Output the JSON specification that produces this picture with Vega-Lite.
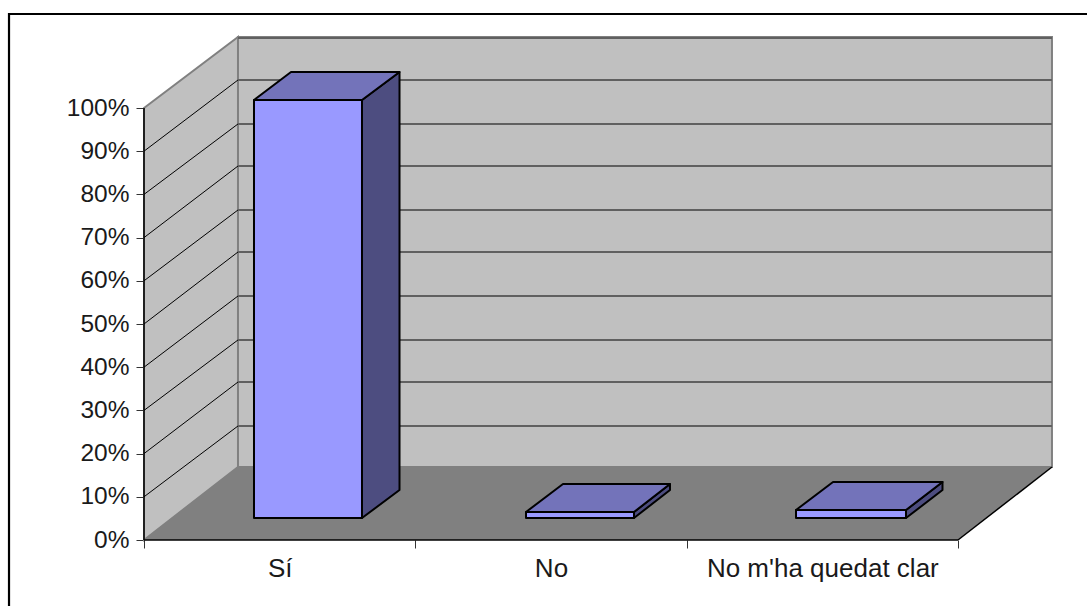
{
"$schema":"https://vega.github.io/schema/vega-lite/v6.json",
"width":943,"height":540,"padding":{"left":144,"top":0,"right":0,"bottom":66},"autosize":{"type":"none"},
"background":"white",
"config":{"view":{"stroke":null},"font":"Liberation Sans"},
"datasets":{
"walls":[
{"face":"left","x":0,"y":100,"y2":0},{"face":"left","x":0.3464,"y":116.44,"y2":16.9},
{"face":"back","x":0.3464,"y":116.44,"y2":16.9},{"face":"back","x":3.3464,"y":116.44,"y2":16.9}],
"floor":[
{"face":"floor","x":0,"y":0,"y2":0},{"face":"floor","x":0.3464,"y":16.9,"y2":0},{"face":"floor","x":3,"y":16.9,"y2":0},{"face":"floor","x":3.3464,"y":16.9,"y2":16.9}],
"leftGrid":[
{"v":10,"x":0,"y":10},{"v":10,"x":0.3464,"y":26.39},{"v":20,"x":0,"y":20},{"v":20,"x":0.3464,"y":36.57},{"v":30,"x":0,"y":30},{"v":30,"x":0.3464,"y":46.3},{"v":40,"x":0,"y":40},{"v":40,"x":0.3464,"y":56.48},{"v":50,"x":0,"y":50},{"v":50,"x":0.3464,"y":66.67},{"v":60,"x":0,"y":60},{"v":60,"x":0.3464,"y":76.39},{"v":70,"x":0,"y":70},{"v":70,"x":0.3464,"y":86.57},{"v":80,"x":0,"y":80},{"v":80,"x":0.3464,"y":96.3},{"v":90,"x":0,"y":90},{"v":90,"x":0.3464,"y":106.48}],
"backGrid":[
{"v":10,"x":0.3464,"y":26.39},{"v":10,"x":3.3464,"y":26.39},{"v":20,"x":0.3464,"y":36.57},{"v":20,"x":3.3464,"y":36.57},{"v":30,"x":0.3464,"y":46.3},{"v":30,"x":3.3464,"y":46.3},{"v":40,"x":0.3464,"y":56.48},{"v":40,"x":3.3464,"y":56.48},{"v":50,"x":0.3464,"y":66.67},{"v":50,"x":3.3464,"y":66.67},{"v":60,"x":0.3464,"y":76.39},{"v":60,"x":3.3464,"y":76.39},{"v":70,"x":0.3464,"y":86.57},{"v":70,"x":3.3464,"y":86.57},{"v":80,"x":0.3464,"y":96.3},{"v":80,"x":3.3464,"y":96.3},{"v":90,"x":0.3464,"y":106.48},{"v":90,"x":3.3464,"y":106.48},{"v":100,"x":0.3464,"y":116.2},{"v":100,"x":3.3464,"y":116.2}],
"edges":[
{"edge":"leftAxis","x":0,"y":0},{"edge":"leftAxis","x":0,"y":100},
{"edge":"frontAxis","x":0,"y":0},{"edge":"frontAxis","x":3,"y":0},
{"edge":"floorRight","x":3,"y":0},{"edge":"floorRight","x":3.3464,"y":16.9}],
"bars":[
{"cat":"Sí","part":"side","x":0.8034,"y":101.85,"y2":5.09},{"cat":"Sí","part":"side","x":0.9417,"y":108.33,"y2":11.57},
{"cat":"Sí","part":"top","x":0.4054,"y":101.85,"y2":101.85},{"cat":"Sí","part":"top","x":0.5418,"y":108.33,"y2":101.85},{"cat":"Sí","part":"top","x":0.8034,"y":108.33,"y2":101.85},{"cat":"Sí","part":"top","x":0.9417,"y":108.33,"y2":108.33},
{"cat":"Sí","part":"front","x":0.4054,"y":101.85,"y2":5.09},{"cat":"Sí","part":"front","x":0.8034,"y":101.85,"y2":5.09},
{"cat":"No","part":"side","x":1.8059,"y":6.48,"y2":5.09},{"cat":"No","part":"side","x":1.9386,"y":12.96,"y2":11.57},
{"cat":"No","part":"top","x":1.4079,"y":6.48,"y2":6.48},{"cat":"No","part":"top","x":1.5442,"y":12.96,"y2":6.48},{"cat":"No","part":"top","x":1.8059,"y":12.96,"y2":6.48},{"cat":"No","part":"top","x":1.9386,"y":12.96,"y2":12.96},
{"cat":"No","part":"front","x":1.4079,"y":6.48,"y2":5.09},{"cat":"No","part":"front","x":1.8059,"y":6.48,"y2":5.09},
{"cat":"No m'ha quedat clar","part":"side","x":2.8084,"y":6.94,"y2":5.09},{"cat":"No m'ha quedat clar","part":"side","x":2.9429,"y":13.43,"y2":11.57},
{"cat":"No m'ha quedat clar","part":"top","x":2.403,"y":6.94,"y2":6.94},{"cat":"No m'ha quedat clar","part":"top","x":2.5394,"y":13.43,"y2":6.94},{"cat":"No m'ha quedat clar","part":"top","x":2.8084,"y":13.43,"y2":6.94},{"cat":"No m'ha quedat clar","part":"top","x":2.9429,"y":13.43,"y2":13.43},
{"cat":"No m'ha quedat clar","part":"front","x":2.403,"y":6.94,"y2":5.09},{"cat":"No m'ha quedat clar","part":"front","x":2.8084,"y":6.94,"y2":5.09}],
"frame":[{"i":1,"x":-0.4975,"y":-15.28},{"i":2,"x":-0.4975,"y":121.76},{"i":3,"x":3.4755,"y":121.76}]
},
"encoding":{
"x":{"field":"x","type":"quantitative","title":null,"scale":{"domain":[0,3.4755],"nice":false,"zero":false},
"axis":{"values":[0,0.5,1,1.5,2,2.5,3],"grid":false,"domain":false,"tickSize":8,"tickColor":"#333333","tickWidth":1,
"tickOpacity":{"condition":{"test":"datum.value % 1 == 0","value":1},"value":0},
"labelExpr":"datum.value == 0.5 ? 'Sí' : datum.value == 1.5 ? 'No' : datum.value == 2.5 ? \"No m'ha quedat clar\" : ''",
"labelFontSize":26,"labelLimit":400,"labelFont":"Liberation Sans","labelColor":"#1a1a1a","labelPadding":7,"labelOverlap":false,"labelBound":false,"labelFlush":false}},
"y":{"field":"y","type":"quantitative","title":null,"scale":{"domain":[0,125],"nice":false,"zero":false},
"axis":{"values":[0,10,20,30,40,50,60,70,80,90,100],"grid":false,"domain":false,"tickSize":8,"tickColor":"#333333","tickWidth":1,
"labelExpr":"datum.value + '%'","labelFontSize":24.5,"labelFont":"Liberation Sans","labelColor":"#1a1a1a","labelPadding":7,"labelOverlap":false,"labelBound":false,"labelFlush":false}}
},
"layer":[
{"data":{"name":"walls"},"mark":{"type":"area","fill":"#C0C0C0","stroke":"#808080","strokeWidth":2},"encoding":{"y2":{"field":"y2"},"detail":{"field":"face"}}},
{"data":{"name":"leftGrid"},"mark":{"type":"line","color":"#000000","strokeWidth":1},"encoding":{"detail":{"field":"v"}}},
{"data":{"name":"backGrid"},"mark":{"type":"line","color":"#606060","strokeWidth":2},"encoding":{"detail":{"field":"v"}}},
{"data":{"name":"floor"},"mark":{"type":"area","fill":"#808080"},"encoding":{"y2":{"field":"y2"}}},
{"data":{"name":"edges"},"mark":{"type":"line","color":"#000000","strokeWidth":1.5},"encoding":{"detail":{"field":"edge"}}},
{"data":{"name":"bars"},"mark":{"type":"area","stroke":"#000000","strokeWidth":2,"strokeJoin":"round"},"encoding":{"y2":{"field":"y2"},"detail":{"field":"cat"},
"fill":{"field":"part","type":"nominal","legend":null,"scale":{"domain":["front","side","top"],"range":["#9999FF","#4D4D80","#7373BA"]}}}},
{"data":{"name":"frame"},"mark":{"type":"line","color":"#000000","strokeWidth":2.2},"encoding":{"order":{"field":"i"}}}
]
}
